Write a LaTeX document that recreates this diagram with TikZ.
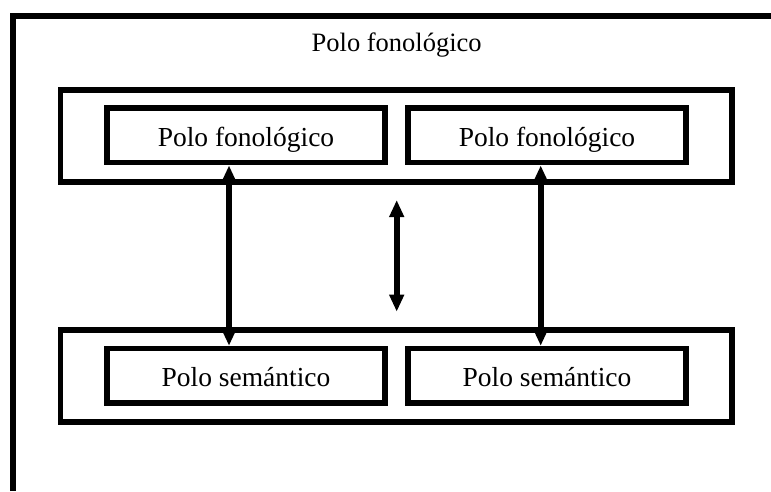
\documentclass[tikz,border=0pt]{standalone}
\usepackage{fontspec}
\setmainfont{Liberation Serif}
\usetikzlibrary{arrows.meta}
\begin{document}
\begin{tikzpicture}[x=1pt,y=-1pt,
  frame/.style={line width=6pt},
  bigbox/.style={draw,line width=5.5pt,minimum width=671.5pt,minimum height=92pt,inner sep=0pt},
  smallbox/.style={draw,line width=5.5pt,minimum width=278pt,minimum height=54.5pt,inner sep=0pt,
    font=\fontsize{27.5pt}{30pt}\selectfont,text height=22pt,text depth=0pt},
  arr/.style={line width=6pt,{Triangle[width=14pt,length=17pt]}-{Triangle[width=14pt,length=17pt]}}]
\useasboundingbox (0,0) rectangle (771,491);
\draw[frame,line join=miter] (12.5,491) -- (12.5,16) -- (771,16);
\node[anchor=base,font=\fontsize{26.5pt}{30pt}\selectfont] (title) at (396.7,51.7) {Polo fonológico};
\node[bigbox] (up) at (396.25,136) {};
\node[bigbox] (low) at (396.25,376) {};
\node[smallbox] (ul) at (246,135.35) {Polo fonológico};
\node[smallbox] (ur) at (547,135.35) {Polo fonológico};
\node[smallbox] (ll) at (246,375.85) {Polo semántico};
\node[smallbox] (lr) at (547,375.85) {Polo semántico};
\draw[arr] ([xshift=-17pt]ul.south) -- ([xshift=-17pt]ll.north);
\draw[arr] ([xshift=-6.3pt]ur.south) -- ([xshift=-6.3pt]lr.north);
\coordinate (mtop) at (396.7,200);
\coordinate (mbot) at (396.7,311.7);
\draw[arr] (mtop) -- (mbot);
\end{tikzpicture}
\end{document}
